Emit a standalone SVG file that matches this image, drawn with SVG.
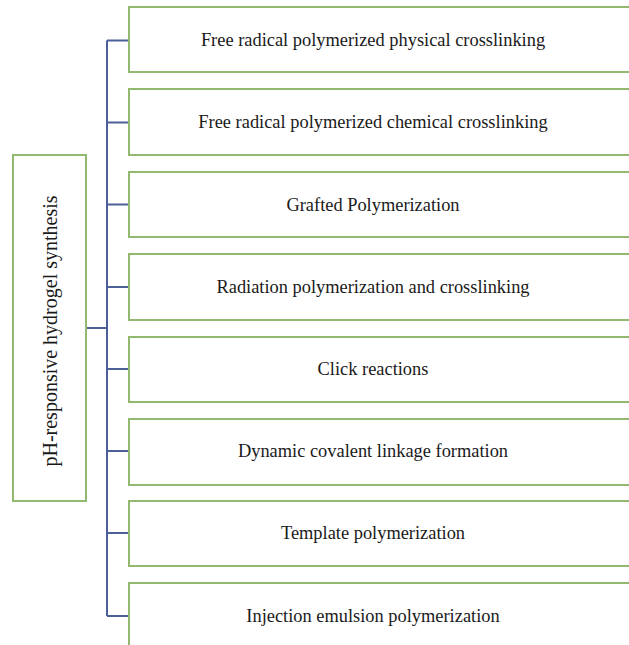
<svg xmlns="http://www.w3.org/2000/svg" width="629" height="645" viewBox="0 0 629 645">
<style>
.box{fill:#fff;stroke:#92b96f;stroke-width:2}
.conn{fill:none;stroke:#4d5f98;stroke-width:2}
.t{font-family:"Liberation Serif","Times New Roman",serif;font-size:18.4px;fill:#1a1a1a;text-anchor:middle}
</style>
<rect width="629" height="645" fill="#fff"/>
<g id="connectors">
<path class="conn" d="M86 328H107M107 40.5V616"/>
<path class="conn" d="M107 40.5H129M107 122.5H129M107 204.5H129M107 287H129M107 369H129M107 451H129M107 533H129M107 616H129"/>
</g>
<g id="root">
<rect class="box" x="13" y="155" width="73" height="346"/>
<text class="t" style="font-size:20px" transform="translate(57 331) rotate(-90)" x="0" y="0">pH-responsive hydrogel synthesis</text>
</g>
<g id="n1"><rect class="box" x="129" y="7" width="520" height="65"/><text class="t" x="373" y="46">Free radical polymerized physical crosslinking</text></g>
<g id="n2"><rect class="box" x="129" y="89" width="520" height="66"/><text class="t" x="373" y="128">Free radical polymerized chemical crosslinking</text></g>
<g id="n3"><rect class="box" x="129" y="172" width="520" height="65"/><text class="t" x="373" y="211">Grafted Polymerization</text></g>
<g id="n4"><rect class="box" x="129" y="254" width="520" height="66"/><text class="t" x="373" y="293">Radiation polymerization and crosslinking</text></g>
<g id="n5"><rect class="box" x="129" y="337" width="520" height="65"/><text class="t" x="373" y="375">Click reactions</text></g>
<g id="n6"><rect class="box" x="129" y="419" width="520" height="66"/><text class="t" x="373" y="457">Dynamic covalent linkage formation</text></g>
<g id="n7"><rect class="box" x="129" y="501" width="520" height="65"/><text class="t" x="373" y="539">Template polymerization</text></g>
<g id="n8"><rect class="box" x="129" y="583" width="520" height="80"/><text class="t" x="373" y="622">Injection emulsion polymerization</text></g>
</svg>
